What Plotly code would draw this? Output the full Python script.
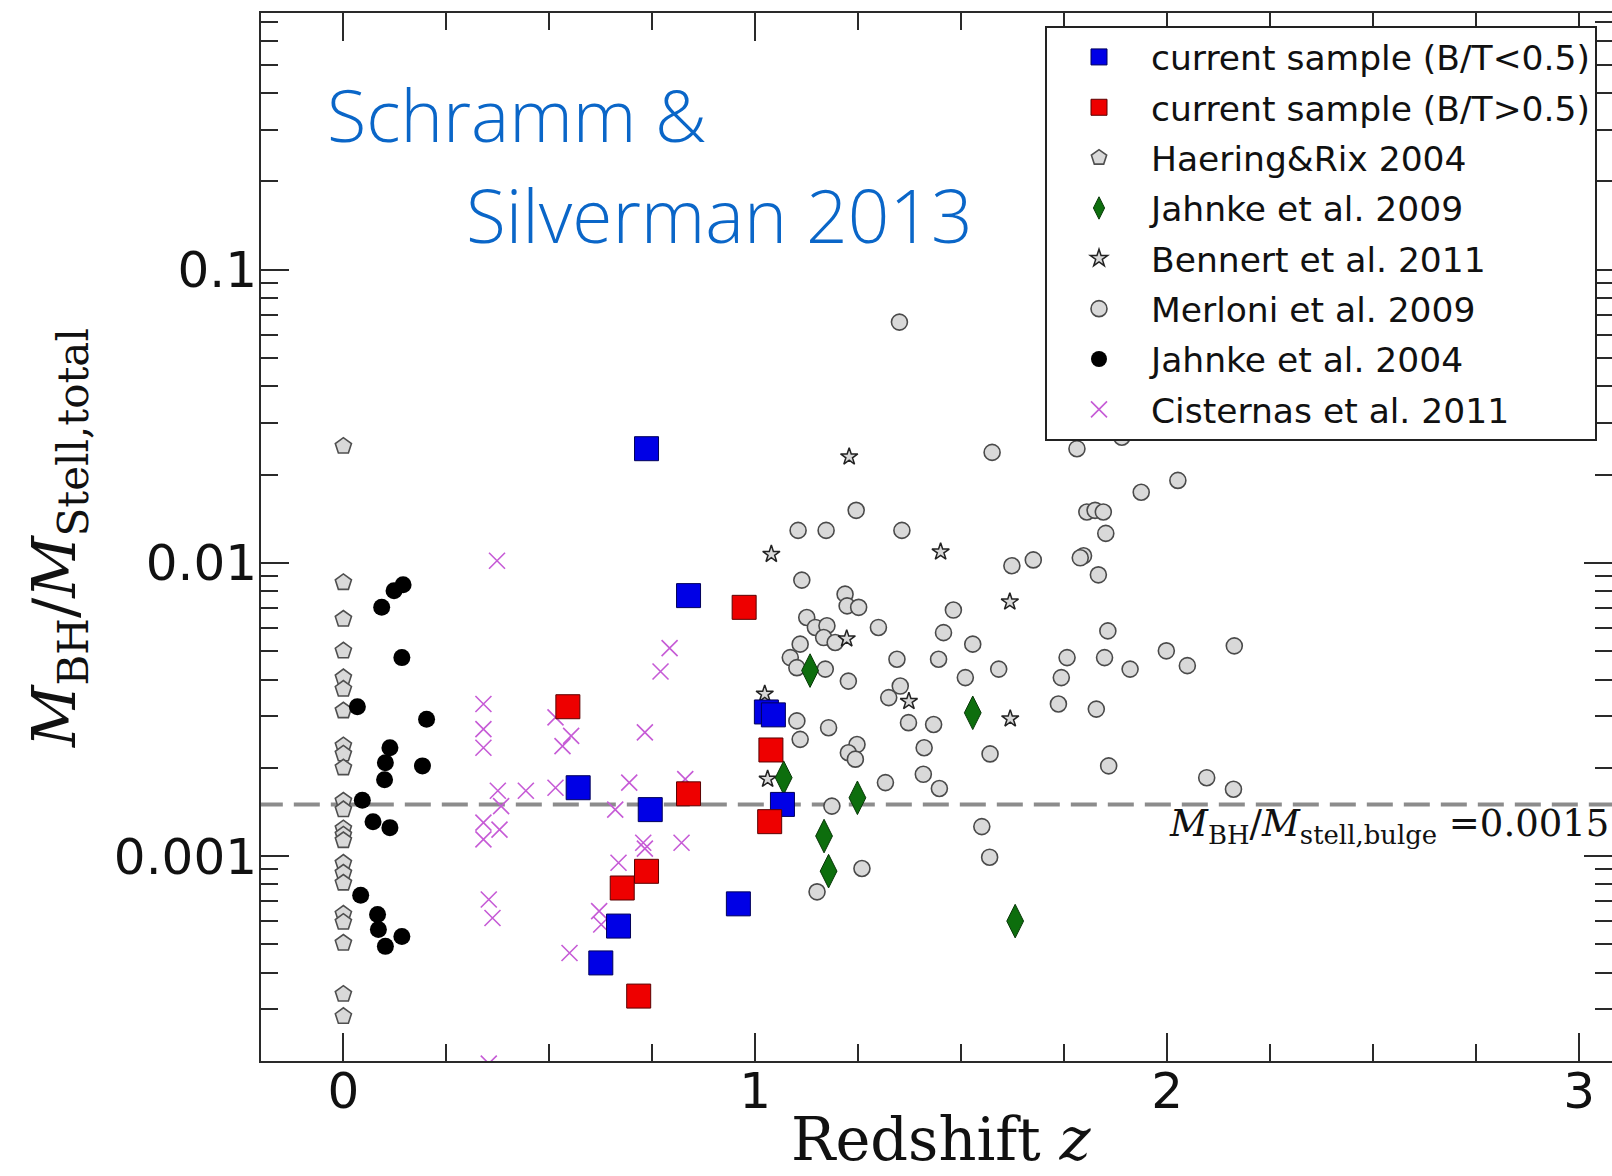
import math
import plotly.graph_objects as go

# ---------------- data (redshift z, M_BH / M_stell,total) ----------------
blue_z = [0.736, 0.838, 1.027, 1.044, 0.570, 0.745, 1.066, 0.668, 0.625, 0.959]
blue_r = [0.0245, 0.00773, 0.00310, 0.00303, 0.00171, 0.00144, 0.00150, 0.000577, 0.000432, 0.000687]

red_z = [0.545, 0.973, 1.038, 0.838, 1.035, 0.736, 0.677, 0.717]
red_r = [0.00323, 0.00705, 0.00230, 0.00163, 0.00131, 0.000887, 0.000778, 0.000333]

haering_z = [0.0] * 23
haering_r = [0.0250, 0.00857, 0.00643, 0.00501, 0.00406, 0.00371, 0.00313, 0.00238,
             0.00223, 0.00200, 0.00154, 0.00144, 0.00124, 0.00118, 0.00113, 0.000946,
             0.000875, 0.000809, 0.000634, 0.000595, 0.000505, 0.000338, 0.000284]

jahnke09_z = [1.133, 1.069, 1.248, 1.167, 1.178, 1.528, 1.631]
jahnke09_r = [0.00429, 0.00185, 0.00158, 0.00117, 0.000888, 0.00308, 0.000600]

bennert_z = [1.228, 1.039, 1.450, 1.618, 1.222, 1.023, 1.373, 1.619, 1.030]
bennert_r = [0.0230, 0.0107, 0.0109, 0.00736, 0.00551, 0.00357, 0.00337, 0.00294, 0.00183]

merloni_z = [1.350, 1.575, 1.781, 1.890, 1.937, 2.026, 1.245, 1.104, 1.172, 1.356,
             1.805, 1.825, 1.845, 1.851, 1.797, 1.789, 1.833, 1.623, 1.675, 1.113,
             1.218, 1.223, 1.251, 1.125, 1.146, 1.174, 1.166, 1.194, 1.299, 1.481,
             1.457, 1.528, 1.109, 1.085, 1.101, 1.170, 1.226, 1.344, 1.445, 1.591,
             1.510, 1.352, 1.324, 1.856, 1.757, 1.848, 1.910, 1.998, 2.049, 1.743,
             1.736, 1.828, 1.101, 1.178, 1.372, 1.433, 1.109, 1.247, 1.226, 1.243,
             1.410, 1.408, 1.447, 1.316, 1.570, 1.858, 1.186, 1.550, 1.569, 1.259,
             1.150, 2.163, 2.096, 2.161]
merloni_r = [0.0662, 0.0238, 0.0245, 0.0268, 0.0174, 0.0191, 0.0151, 0.0129, 0.0129, 0.0129,
             0.0149, 0.0151, 0.0149, 0.0126, 0.01057, 0.0104, 0.00910, 0.00977, 0.01023, 0.00873,
             0.00782, 0.00713, 0.00705, 0.00651, 0.00602, 0.00610, 0.00556, 0.00535, 0.00602, 0.00690,
             0.00578, 0.00528, 0.00528, 0.00475, 0.00439, 0.00434, 0.00395, 0.00469, 0.00469, 0.00434,
             0.00406, 0.00380, 0.00347, 0.00586, 0.00475, 0.00475, 0.00434, 0.00501, 0.00446, 0.00406,
             0.00330, 0.00317, 0.00289, 0.00274, 0.00285, 0.00281, 0.00250, 0.00240, 0.00225, 0.00214,
             0.00234, 0.00190, 0.00170, 0.00178, 0.00223, 0.00203, 0.00148, 0.00126, 0.000991, 0.000907,
             0.000755, 0.00521, 0.00185, 0.00169]

jahnke04_z = [0.123, 0.145, 0.093, 0.142, 0.034, 0.202, 0.113, 0.102, 0.192, 0.100,
              0.046, 0.072, 0.113, 0.042, 0.083, 0.085, 0.102, 0.142]
jahnke04_r = [0.00803, 0.00842, 0.00705, 0.00475, 0.00323, 0.00293, 0.00234, 0.00208, 0.00203, 0.00182,
              0.00155, 0.00131, 0.00125, 0.000735, 0.000632, 0.000562, 0.000492, 0.000532]

cisternas_z = [0.373, 0.792, 0.770, 0.340, 0.340, 0.340, 0.515, 0.553, 0.532, 0.732,
               0.694, 0.830, 0.375, 0.443, 0.515, 0.383, 0.660, 0.340, 0.379, 0.340,
               0.728, 0.821, 0.732, 0.668, 0.353, 0.362, 0.621, 0.626, 0.549, 0.353]
cisternas_r = [0.01016, 0.00512, 0.00426, 0.00330, 0.00271, 0.00234, 0.00297, 0.00257, 0.00237, 0.00264,
               0.00178, 0.00183, 0.00167, 0.00167, 0.00171, 0.00148, 0.00144, 0.00130, 0.00123, 0.00114,
               0.00111, 0.00111, 0.00106, 0.000949, 0.000711, 0.000615, 0.000649, 0.000584, 0.000467, 0.000196]

bulge_ratio = 0.0015
x_range = [-0.2, 3.08]
y_lim = [2e-4, 0.75]

x_major = [0, 1, 2, 3]
x_major_text = ["0", "1", "2", "3"]
y_major = [0.001, 0.01, 0.1]
y_major_text = ["0.001", "0.01", "0.1"]
y_minor = [m * d for d in (1e-4, 1e-3, 1e-2, 1e-1) for m in range(2, 10)]

# ---------------- figure ----------------
fig = go.Figure()

GRAY_EDGE = "#4a4a4a"
LIGHT = "#d9d9d9"

# dashed reference line
fig.add_trace(go.Scatter(x=[x_range[0] - 0.1, x_range[1] + 0.1], y=[bulge_ratio, bulge_ratio],
                         mode="lines", line=dict(color="#8c8c8c", width=4, dash="26px,11px"),
                         showlegend=False, hoverinfo="skip", legendgroup="line"))

fig.add_trace(go.Scatter(x=merloni_z, y=merloni_r, mode="markers", name="Merloni et al. 2009",
                         legendrank=6, legendgroup="g6",
                         marker=dict(symbol="circle", size=16, color=LIGHT,
                                     line=dict(color=GRAY_EDGE, width=1.6))))
fig.add_trace(go.Scatter(x=haering_z, y=haering_r, mode="markers", name="Haering&Rix 2004",
                         legendrank=3, legendgroup="g3",
                         marker=dict(symbol="pentagon", size=17, color=LIGHT,
                                     line=dict(color="#4f4f4f", width=1.6))))
fig.add_trace(go.Scatter(x=bennert_z, y=bennert_r, mode="markers", name="Bennert et al. 2011",
                         legendrank=5, legendgroup="g5",
                         marker=dict(symbol="star", size=13, color=LIGHT,
                                     line=dict(color="#222222", width=1.5))))
fig.add_trace(go.Scatter(x=jahnke04_z, y=jahnke04_r, mode="markers", name="Jahnke et al. 2004",
                         legendrank=7, legendgroup="g7",
                         marker=dict(symbol="circle", size=17, color="#000000",
                                     line=dict(color="#000000", width=0))))
fig.add_trace(go.Scatter(x=cisternas_z, y=cisternas_r, mode="markers", name="Cisternas et al. 2011",
                         legendrank=8, legendgroup="g8",
                         marker=dict(symbol="x-thin-open", size=16, color="#c65bd6",
                                     line=dict(color="#c65bd6", width=1.6))))
fig.add_trace(go.Scatter(x=jahnke09_z, y=jahnke09_r, mode="markers", name="Jahnke et al. 2009",
                         legendrank=4, legendgroup="g4",
                         marker=dict(symbol="diamond-tall", size=24, color="#0d6e0d",
                                     line=dict(color="#083808", width=1))))
fig.add_trace(go.Scatter(x=blue_z, y=blue_r, mode="markers", name="current sample (B/T<0.5)",
                         legendrank=1, legendgroup="g1",
                         marker=dict(symbol="square", size=24, color="#0000e6",
                                     line=dict(color="#00005a", width=1))))
fig.add_trace(go.Scatter(x=red_z, y=red_r, mode="markers", name="current sample (B/T>0.5)",
                         legendrank=2, legendgroup="g2",
                         marker=dict(symbol="square", size=24, color="#ee0000",
                                     line=dict(color="#5a0000", width=1))))

AX = "#2a2a2a"
fig.update_xaxes(range=x_range, showline=True, linewidth=2, linecolor=AX, mirror="allticks",
                 tickmode="array", tickvals=x_major, ticktext=x_major_text,
                 ticks="inside", ticklen=28, tickwidth=2, tickcolor=AX,
                 minor=dict(ticks="inside", ticklen=17, tickwidth=2, tickcolor=AX,
                            dtick=0.25, tick0=0, showgrid=False),
                 tickfont=dict(family="DejaVu Sans", size=50, color="#111"),
                 ticklabelstandoff=-15,
                 showgrid=False, zeroline=False, automargin=False)
fig.update_yaxes(type="log", range=[math.log10(y_lim[0]), math.log10(y_lim[1])],
                 showline=True, linewidth=2, linecolor=AX, mirror="allticks",
                 tickmode="array", tickvals=y_major, ticktext=y_major_text,
                 ticks="inside", ticklen=28, tickwidth=2, tickcolor=AX,
                 minor=dict(ticks="inside", ticklen=17, tickwidth=2, tickcolor=AX,
                            tickmode="array", tickvals=y_minor, showgrid=False),
                 tickfont=dict(family="DejaVu Sans", size=50, color="#111"),
                 ticklabelstandoff=-8,
                 showgrid=False, zeroline=False, automargin=False)

W, H = 1612, 1176
L, R, T, B = 261, 0, 13, 115
pw, ph = W - L - R, H - T - B

def px(xp):
    return (xp - L) / pw

def py(yp):
    return (H - B - yp) / ph

annotations = [
    dict(text="Schramm &", x=px(325), y=py(114), xref="paper", yref="paper",
         xanchor="left", yanchor="middle", showarrow=False,
         font=dict(family="Open Sans", size=72, color="#0a66c8", weight=300)),
    dict(text="Silverman 2013", x=px(464), y=py(214), xref="paper", yref="paper",
         xanchor="left", yanchor="middle", showarrow=False,
         font=dict(family="Open Sans", size=73, color="#0a66c8", weight=300)),
    dict(text="<i>M</i><sub>BH</sub>/<i>M</i><sub>Stell,total</sub>", x=px(59), y=py(538),
         xref="paper", yref="paper", xanchor="center", yanchor="middle", textangle=-90,
         showarrow=False, font=dict(family="DejaVu Serif", size=60, color="#111")),
    dict(text="Redshift <i>z</i>", x=px(942), y=py(1176), xref="paper", yref="paper",
         xanchor="center", yanchor="bottom", showarrow=False,
         font=dict(family="DejaVu Serif", size=59, color="#111")),
    dict(text="<i>M</i><sub>BH</sub>/<i>M</i><sub>stell,bulge</sub> =0.0015", x=px(1611), y=py(826),
         xref="paper", yref="paper", xanchor="right", yanchor="middle", showarrow=False,
         font=dict(family="DejaVu Serif", size=37, color="#111")),
]

fig.update_layout(
    width=W, height=H,
    margin=dict(l=L, r=R, t=T, b=B, pad=0),
    paper_bgcolor="white", plot_bgcolor="white",
    annotations=annotations,
    legend=dict(x=px(1045), y=py(26), xanchor="left", yanchor="top",
                bgcolor="white", bordercolor="#222", borderwidth=2,
                font=dict(family="DejaVu Sans", size=34.5, color="#111"),
                itemwidth=94, tracegroupgap=2.5, traceorder="grouped"),
)

fig.write_html("out.html")
